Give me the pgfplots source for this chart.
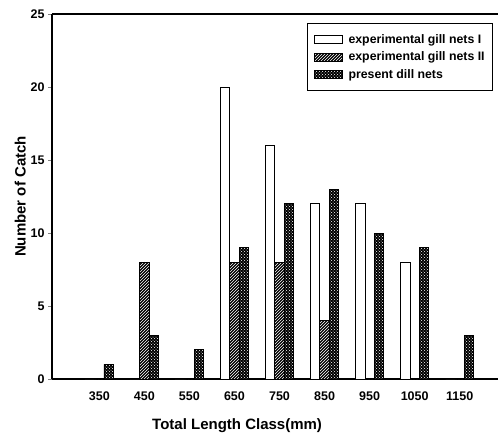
\documentclass[border=0pt]{standalone}
\usepackage{pgfplots}
\pgfplotsset{compat=1.18}
\usepackage{fontspec}
\setmainfont{Liberation Sans}
\usetikzlibrary{patterns}

\begin{document}
\begin{tikzpicture}
\begin{axis}[
    name=ax,
    scale only axis,
    width=446pt, height=365pt,
    ybar=0pt, bar width=9.3pt,
    xmin=-1.05, xmax=8.85,
    ymin=0, ymax=25,
    xtick={0,...,8},
    xticklabels={350,450,550,650,750,850,950,1050,1150},
    ytick={0,5,10,15,20,25},
    axis x line*=box,
    axis y line*=left,
    axis line style={line width=1.1pt},
    xtick style={draw=none},
    ytick style={line width=0.8pt},
    tick align=outside,
    major tick length=4pt,
    /pgf/number format/assume math mode=true,
    tick label style={font=\bfseries\fontsize{12.5}{14}\selectfont},
    xticklabel style={yshift=-5pt},
    xlabel={Total Length Class(mm)},
    ylabel={Number of Catch},
    label style={font=\bfseries\fontsize{15}{17}\selectfont},
    xlabel style={at={(ticklabel cs:0.415)}, anchor=north, yshift=-11pt},
    ylabel style={yshift=-2pt},
    legend cell align=left,
    legend image code/.code={\draw[#1] (0pt,-4pt) rectangle (28pt,4pt);},
    legend style={at={(rel axis cs:0.989,0.975)}, anchor=north east,
        draw=black, line width=1pt,
        font=\bfseries\fontsize{12.3}{14}\selectfont,
        inner xsep=6pt, inner ysep=9pt, row sep=3pt,
        /tikz/every odd column/.append style={column sep=4pt}},
]
% experimental gill nets I
\addplot[draw=black, line width=0.9pt, fill=white] coordinates {
    (0,0) (1,0) (2,0) (3,20) (4,16) (5,12) (6,12) (7,8) (8,0)
};
\addlegendentry{experimental gill nets I}
% experimental gill nets II
\addplot[draw=black, line width=0.9pt, fill=black,
    postaction={pattern=north east lines, pattern color=white}] coordinates {
    (0,0) (1,8) (2,0) (3,8) (4,8) (5,4) (6,0) (7,0) (8,0)
};
\addlegendentry{experimental gill nets II}
% present dill nets
\addplot[draw=black, line width=0.9pt, fill=black,
    postaction={pattern=crosshatch dots, pattern color=white}] coordinates {
    (0,1) (1,3) (2,2) (3,9) (4,12) (5,13) (6,10) (7,9) (8,3)
};
\addlegendentry{present dill nets}
\end{axis}
\pgfresetboundingbox
\path ([xshift=-52pt,yshift=-60pt]ax.south west) rectangle ([yshift=14pt]ax.north east);
\end{tikzpicture}
\end{document}
